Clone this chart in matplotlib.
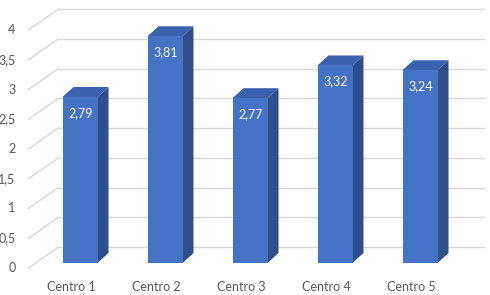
import matplotlib
matplotlib.use("Agg")
import matplotlib.pyplot as plt
import numpy as np

categories = ["Centro 1", "Centro 2", "Centro 3", "Centro 4", "Centro 5"]
values = [2.79, 3.81, 2.77, 3.32, 3.24]
ticks = [0, 0.5, 1, 1.5, 2, 2.5, 3, 3.5, 4]

W, H = 490, 295
fig = plt.figure(figsize=(W / 100, H / 100), dpi=100)
# axes = plane of the bar fronts
ax_l, ax_b, ax_w, ax_h = 37.5, 32, 425, 238
ax = fig.add_axes([ax_l / W, ax_b / H, ax_w / W, ax_h / H])
ax.set_xlim(-0.5, 4.5)
ax.set_ylim(0, 4)
ax.axis("off")

px_x = ax_w / 5.0   # pixels per x unit
px_y = ax_h / 4.0   # pixels per y unit

# depth offsets (pixels -> data units)
bar_dx, bar_dy = 11 / px_x, 10 / px_y      # bar thickness
back_dx, back_dy = 21 / px_x, 16 / px_y    # back wall
lab_dx, lab_dy = -9 / px_x, -5 / px_y      # label plane

front_col = "#4472C4"
side_col = "#2F4E8C"
top_col = "#3A62AE"
grid_col = "#D9D9D9"
text_col = "#595959"
font = "Lato"

# back wall gridlines + floor/side diagonals
for t in ticks:
    ax.plot([-0.5 + back_dx, 4.5 + back_dx], [t + back_dy, t + back_dy],
            color=grid_col, lw=1, clip_on=False, zorder=1)
    ax.plot([-0.5 + lab_dx, -0.5 + back_dx], [t + lab_dy, t + back_dy],
            color=grid_col, lw=1, clip_on=False, zorder=1)
    ax.text(-0.5 + lab_dx - 13 / px_x, t + lab_dy, ("%g" % t).replace(".", ","),
            ha="right", va="center", fontsize=9, color=text_col,
            family=font, clip_on=False)

x = np.arange(len(categories))
bw = 35 / px_x
ax.bar(x, values, width=bw, color=front_col, zorder=5)
for xi, v in zip(x, values):
    r = xi + bw / 2
    l = xi - bw / 2
    # side face
    ax.fill([r, r + bar_dx, r + bar_dx, r], [0, bar_dy, v + bar_dy, v],
            color=side_col, zorder=4, lw=0)
    # top face
    ax.fill([l, l + bar_dx, r + bar_dx, r], [v, v + bar_dy, v + bar_dy, v],
            color=top_col, zorder=4, lw=0)
    ax.text(xi + 1 / px_x, v - 16 / px_y, ("%.2f" % v).replace(".", ","),
            ha="center", va="center", fontsize=9, color="white",
            family=font, zorder=6)
    ax.text(xi + lab_dx, -24 / px_y, categories[xi], ha="center", va="center",
            fontsize=9, color=text_col, family=font, clip_on=False)

fig.savefig("out.png", dpi=100)
